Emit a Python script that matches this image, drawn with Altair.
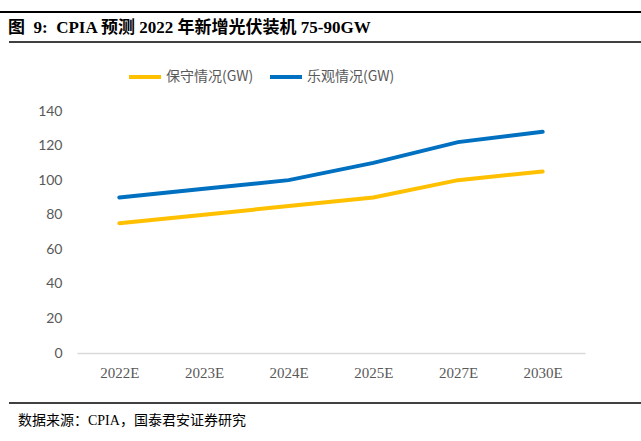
import altair as alt
import pandas as pd

years = ["2022E", "2023E", "2024E", "2025E", "2027E", "2030E"]
conservative = [75, 80, 85, 90, 100, 105]
optimistic = [90, 95, 100, 110, 122, 128]
series_names = ["保守情况(GW)", "乐观情况(GW)"]
series_colors = ["#FFC000", "#0070C0"]
y_ticks = [0, 20, 40, 60, 80, 100, 120, 140]

title_text = "图\u00a0\u00a09:\u00a0\u00a0CPIA 预测 2022 年新增光伏装机 75-90GW"
source_text = "数据来源：CPIA，国泰君安证券研究"

rows = []
for i, yr in enumerate(years):
    rows.append({"year": yr, "series": series_names[0], "value": conservative[i]})
    rows.append({"year": yr, "series": series_names[1], "value": optimistic[i]})
df = pd.DataFrame(rows)

W, H = 508, 242

lines = alt.Chart(df).mark_line(strokeWidth=4, strokeCap="round").encode(
    x=alt.X("year:N", sort=years, title=None,
            scale=alt.Scale(paddingInner=0, paddingOuter=0.5),
            axis=alt.Axis(labelAngle=0, ticks=False, domainColor="#D9D9D9", domainWidth=1.5,
                          labelFont="Liberation Serif", labelFontSize=15, labelColor="#595959",
                          labelPadding=12, grid=False)),
    y=alt.Y("value:Q", title=None,
            scale=alt.Scale(domain=[0, 140], nice=False),
            axis=alt.Axis(values=y_ticks, ticks=False, domain=False, grid=False,
                          labelFont="Lato", labelFontSize=14, labelColor="#595959",
                          labelPadding=15)),
    color=alt.Color("series:N", sort=series_names, title=None,
                    scale=alt.Scale(domain=series_names, range=series_colors),
                    legend=alt.Legend(orient="none", legendX=50, legendY=-52, direction="horizontal",
                                      symbolType="stroke", symbolSize=1024, symbolStrokeWidth=4,
                                      labelFont="Noto Sans CJK SC", labelFontSize=14,
                                      labelColor="#595959", labelOffset=3, columnPadding=8)),
)

deco = pd.DataFrame({"k": [0]})
rule_top = alt.Chart(deco).mark_rule(color="#000000", strokeWidth=2).encode(
    x=alt.value(-77), x2=alt.value(641 - 77), y=alt.value(12 - 111))
rule_title = alt.Chart(deco).mark_rule(color="#000000", strokeWidth=1.5).encode(
    x=alt.value(9 - 77), x2=alt.value(641 - 77), y=alt.value(42 - 111))
rule_bottom = alt.Chart(deco).mark_rule(color="#000000", strokeWidth=1.5).encode(
    x=alt.value(9 - 77), x2=alt.value(641 - 77), y=alt.value(403 - 111))

title = alt.Chart(deco).mark_text(
    text=title_text, font="Liberation Serif, Noto Sans CJK SC", fontSize=17, fontWeight="bold",
    align="left", baseline="middle", color="#000000").encode(
    x=alt.value(8 - 77), y=alt.value(28 - 111))
source = alt.Chart(deco).mark_text(
    text=source_text, font="Liberation Serif, Noto Sans CJK SC", fontSize=14,
    align="left", baseline="middle", color="#000000").encode(
    x=alt.value(18 - 77), y=alt.value(421 - 111))

chart = alt.layer(lines, rule_top, rule_title, rule_bottom, title, source).properties(
    width=W, height=H,
    autosize=alt.AutoSizeParams(type="none"),
    padding={"left": 77, "top": 111, "right": 641 - 77 - W, "bottom": 441 - 111 - H},
    background="#FFFFFF",
).configure_view(stroke=None)

chart.save("out.html", embed_options={"renderer": "svg", "actions": False})
